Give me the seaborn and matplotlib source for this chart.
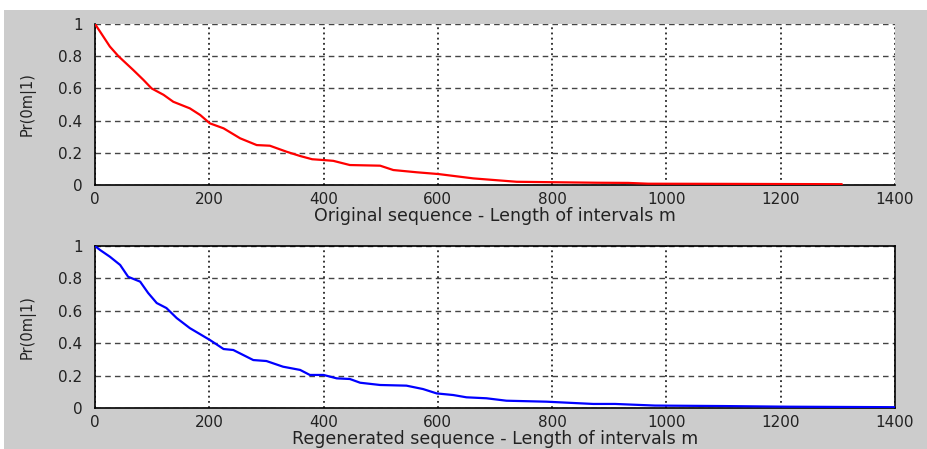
import matplotlib
matplotlib.use("Agg")
import matplotlib.pyplot as plt
import seaborn as sns
import pandas as pd
from matplotlib.patches import Rectangle

# Original sequence (red)
orig_m = [0, 9, 26, 41, 67, 85, 99, 120, 137, 166, 184, 201, 225, 254, 283, 306, 335, 359,
          380, 400, 417, 446, 499, 522, 563, 601, 662, 738, 808, 880, 933, 968, 1100, 1200, 1307]
orig_p = [1.0, 0.952, 0.86, 0.80, 0.714, 0.652, 0.60, 0.56, 0.517, 0.476, 0.435, 0.383, 0.352,
          0.29, 0.248, 0.244, 0.207, 0.180, 0.160, 0.155, 0.150, 0.124, 0.120, 0.093, 0.079,
          0.068, 0.041, 0.020, 0.017, 0.014, 0.013, 0.008, 0.007, 0.006, 0.005]

# Regenerated sequence (blue)
regen_m = [0, 9, 26, 44, 58, 79, 93, 108, 125, 143, 166, 201, 225, 242, 277, 300, 329, 359,
           376, 400, 423, 446, 464, 499, 545, 574, 598, 627, 650, 685, 720, 790, 872, 910,
           980, 1100, 1213, 1400]
regen_p = [1.0, 0.975, 0.934, 0.883, 0.81, 0.78, 0.71, 0.648, 0.617, 0.555, 0.493, 0.42,
           0.364, 0.358, 0.296, 0.29, 0.255, 0.235, 0.204, 0.204, 0.183, 0.179, 0.156, 0.142,
           0.138, 0.117, 0.09, 0.08, 0.066, 0.06, 0.045, 0.039, 0.025, 0.025, 0.015, 0.012,
           0.008, 0.005]

xticks = [0, 200, 400, 600, 800, 1000, 1200, 1400]
yticks = [0, 0.2, 0.4, 0.6, 0.8, 1]
ytick_labels = ["0", "0.2", "0.4", "0.6", "0.8", "1"]
ylabel = "Pr(0m|1)"
xlabels = ["Original sequence - Length of intervals m",
           "Regenerated sequence - Length of intervals m"]

sns.set_style("white")
plt.rcParams['font.family'] = ['DejaVu Sans']

W, H = 927, 449
fig = plt.figure(figsize=(W / 100, H / 100), dpi=100, facecolor="white")
fig.patches.append(Rectangle((4 / W, 0), 1 - 4 / W, 1 - 10 / H, transform=fig.transFigure,
                             facecolor="#cccccc", edgecolor="none", zorder=-10))

def fy(px):
    return 1 - px / H

ax1 = fig.add_axes([95 / W, fy(185), 800 / W, fy(24) - fy(185)])
ax2 = fig.add_axes([95 / W, fy(408), 800 / W, fy(246) - fy(408)])

df1 = pd.DataFrame({"m": orig_m, "p": orig_p})
df2 = pd.DataFrame({"m": regen_m, "p": regen_p})

sns.lineplot(data=df1, x="m", y="p", ax=ax1, color="#ff0000", linewidth=1.6, zorder=5)
sns.lineplot(data=df2, x="m", y="p", ax=ax2, color="#0000ff", linewidth=1.6, zorder=5)

for ax, xl, box in [(ax1, xlabels[0], False), (ax2, xlabels[1], True)]:
    ax.set_facecolor("white")
    ax.set_xlim(0, 1400)
    ax.set_ylim(0, 1)
    ax.set_xticks(xticks)
    ax.set_xticklabels([str(t) for t in xticks])
    ax.set_yticks(yticks)
    ax.set_yticklabels(ytick_labels)
    ax.tick_params(direction="in", length=4, width=1, colors="black",
                   labelsize=11, labelcolor="#222222", pad=5)
    ax.tick_params(axis="y", pad=9)
    ax.xaxis.grid(True, linestyle=(0, (1.2, 2.2)), color="black", linewidth=1.1)
    ax.yaxis.grid(True, linestyle=(0, (4, 3)), color="#444444", linewidth=1.0)
    ax.set_axisbelow(True)
    for s in ["left", "bottom"]:
        ax.spines[s].set_visible(True)
        ax.spines[s].set_color("black")
        ax.spines[s].set_linewidth(1.2)
    for s in ["top", "right"]:
        ax.spines[s].set_visible(box)
        ax.spines[s].set_color("black")
        ax.spines[s].set_linewidth(1.2)
    ax.set_xlabel(xl, fontsize=12.5, color="#222222", labelpad=0)
    ax.set_ylabel(ylabel, fontsize=10.5, color="#222222")
    ax.yaxis.set_label_coords(-0.074, 0.5)

fig.savefig("out.png", dpi=100, facecolor=fig.get_facecolor())
